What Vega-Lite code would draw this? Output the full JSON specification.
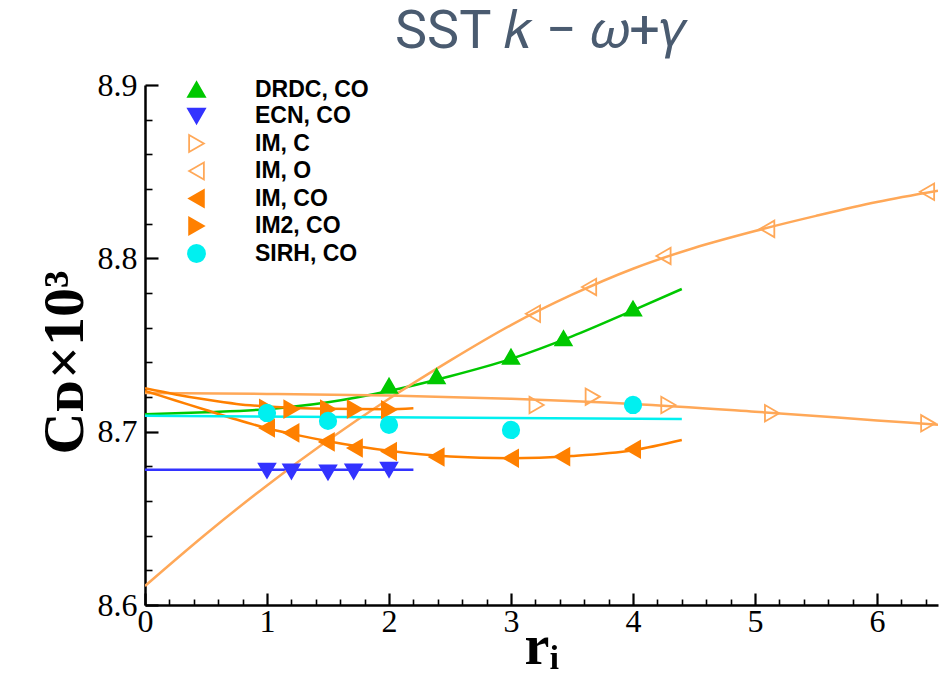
{
  "$schema": "https://vega.github.io/schema/vega-lite/v6.json",
  "width": 793,
  "height": 520,
  "autosize": "none",
  "padding": {"left": 145, "top": 85, "right": 11, "bottom": 68},
  "background": "white",
  "title": {
    "text": "SST 𝑘 − 𝜔+𝛾",
    "font": "Roboto",
    "fontSize": 54,
    "fontWeight": "normal",
    "color": "#4a5b70",
    "anchor": "middle",
    "frame": "group",
    "baseline": "alphabetic",
    "offset": -33
  },
  "datasets": {
    "curves": [
      {"series": "DRDC, CO", "r": 0.0, "cd": 8.7100},
      {"series": "DRDC, CO", "r": 0.5, "cd": 8.7112},
      {"series": "DRDC, CO", "r": 1.0, "cd": 8.7130},
      {"series": "DRDC, CO", "r": 1.5, "cd": 8.7170},
      {"series": "DRDC, CO", "r": 2.0, "cd": 8.7235},
      {"series": "DRDC, CO", "r": 2.5, "cd": 8.7320},
      {"series": "DRDC, CO", "r": 3.0, "cd": 8.7420},
      {"series": "DRDC, CO", "r": 3.5, "cd": 8.7550},
      {"series": "DRDC, CO", "r": 4.0, "cd": 8.7700},
      {"series": "DRDC, CO", "r": 4.4, "cd": 8.7823},
      {"series": "ECN, CO", "r": 0.0, "cd": 8.6780},
      {"series": "ECN, CO", "r": 2.2, "cd": 8.6780},
      {"series": "IM, C", "r": 0.0, "cd": 8.7223},
      {"series": "IM, C", "r": 1.0, "cd": 8.7218},
      {"series": "IM, C", "r": 2.0, "cd": 8.7208},
      {"series": "IM, C", "r": 3.0, "cd": 8.7190},
      {"series": "IM, C", "r": 4.0, "cd": 8.7160},
      {"series": "IM, C", "r": 5.0, "cd": 8.7115},
      {"series": "IM, C", "r": 6.0, "cd": 8.7065},
      {"series": "IM, C", "r": 6.5, "cd": 8.7040},
      {"series": "IM, O", "r": 0.0, "cd": 8.6110},
      {"series": "IM, O", "r": 0.5, "cd": 8.6410},
      {"series": "IM, O", "r": 1.0, "cd": 8.6690},
      {"series": "IM, O", "r": 1.5, "cd": 8.6950},
      {"series": "IM, O", "r": 2.0, "cd": 8.7190},
      {"series": "IM, O", "r": 2.5, "cd": 8.7410},
      {"series": "IM, O", "r": 3.0, "cd": 8.7615},
      {"series": "IM, O", "r": 3.5, "cd": 8.7790},
      {"series": "IM, O", "r": 4.0, "cd": 8.7940},
      {"series": "IM, O", "r": 4.5, "cd": 8.8060},
      {"series": "IM, O", "r": 5.0, "cd": 8.8158},
      {"series": "IM, O", "r": 5.5, "cd": 8.8245},
      {"series": "IM, O", "r": 6.0, "cd": 8.8325},
      {"series": "IM, O", "r": 6.5, "cd": 8.8390},
      {"series": "IM, CO", "r": 0.0, "cd": 8.7235},
      {"series": "IM, CO", "r": 0.25, "cd": 8.7180},
      {"series": "IM, CO", "r": 0.5, "cd": 8.7125},
      {"series": "IM, CO", "r": 0.75, "cd": 8.7070},
      {"series": "IM, CO", "r": 1.0, "cd": 8.7020},
      {"series": "IM, CO", "r": 1.25, "cd": 8.6980},
      {"series": "IM, CO", "r": 1.5, "cd": 8.6945},
      {"series": "IM, CO", "r": 2.0, "cd": 8.6890},
      {"series": "IM, CO", "r": 2.5, "cd": 8.6857},
      {"series": "IM, CO", "r": 3.0, "cd": 8.6847},
      {"series": "IM, CO", "r": 3.5, "cd": 8.6860},
      {"series": "IM, CO", "r": 4.0, "cd": 8.6893},
      {"series": "IM, CO", "r": 4.4, "cd": 8.6952},
      {"series": "IM2, CO", "r": 0.0, "cd": 8.7250},
      {"series": "IM2, CO", "r": 0.25, "cd": 8.7215},
      {"series": "IM2, CO", "r": 0.5, "cd": 8.7185},
      {"series": "IM2, CO", "r": 0.75, "cd": 8.7160},
      {"series": "IM2, CO", "r": 1.0, "cd": 8.7145},
      {"series": "IM2, CO", "r": 1.5, "cd": 8.7132},
      {"series": "IM2, CO", "r": 2.0, "cd": 8.7130},
      {"series": "IM2, CO", "r": 2.2, "cd": 8.7135},
      {"series": "SIRH, CO", "r": 0.0, "cd": 8.7092},
      {"series": "SIRH, CO", "r": 4.4, "cd": 8.7073}
    ],
    "points": [
      {"series": "DRDC, CO", "r": 2.0, "cd": 8.7265},
      {"series": "DRDC, CO", "r": 2.39, "cd": 8.7320},
      {"series": "DRDC, CO", "r": 3.0, "cd": 8.7433},
      {"series": "DRDC, CO", "r": 3.43, "cd": 8.7539},
      {"series": "DRDC, CO", "r": 4.0, "cd": 8.7710},
      {"series": "ECN, CO", "r": 1.0, "cd": 8.6775},
      {"series": "ECN, CO", "r": 1.2, "cd": 8.6770},
      {"series": "ECN, CO", "r": 1.5, "cd": 8.6765},
      {"series": "ECN, CO", "r": 1.71, "cd": 8.6770},
      {"series": "ECN, CO", "r": 2.0, "cd": 8.6780},
      {"series": "IM, C", "r": 3.21, "cd": 8.7154},
      {"series": "IM, C", "r": 3.67, "cd": 8.7202},
      {"series": "IM, C", "r": 4.29, "cd": 8.7154},
      {"series": "IM, C", "r": 5.14, "cd": 8.7106},
      {"series": "IM, C", "r": 6.42, "cd": 8.7048},
      {"series": "IM, O", "r": 3.18, "cd": 8.7680},
      {"series": "IM, O", "r": 3.64, "cd": 8.7835},
      {"series": "IM, O", "r": 4.25, "cd": 8.8014},
      {"series": "IM, O", "r": 5.1, "cd": 8.8170},
      {"series": "IM, O", "r": 6.41, "cd": 8.8384},
      {"series": "IM, CO", "r": 1.0, "cd": 8.7021},
      {"series": "IM, CO", "r": 1.2, "cd": 8.6993},
      {"series": "IM, CO", "r": 1.49, "cd": 8.6941},
      {"series": "IM, CO", "r": 1.72, "cd": 8.6906},
      {"series": "IM, CO", "r": 2.0, "cd": 8.6885},
      {"series": "IM, CO", "r": 2.39, "cd": 8.6854},
      {"series": "IM, CO", "r": 3.0, "cd": 8.6847},
      {"series": "IM, CO", "r": 3.42, "cd": 8.6856},
      {"series": "IM, CO", "r": 4.0, "cd": 8.6898},
      {"series": "IM2, CO", "r": 1.0, "cd": 8.7135},
      {"series": "IM2, CO", "r": 1.2, "cd": 8.7130},
      {"series": "IM2, CO", "r": 1.5, "cd": 8.7130},
      {"series": "IM2, CO", "r": 1.72, "cd": 8.7130},
      {"series": "IM2, CO", "r": 2.0, "cd": 8.7127},
      {"series": "SIRH, CO", "r": 1.0, "cd": 8.7108},
      {"series": "SIRH, CO", "r": 1.5, "cd": 8.7062},
      {"series": "SIRH, CO", "r": 2.0, "cd": 8.7039},
      {"series": "SIRH, CO", "r": 3.0, "cd": 8.7010},
      {"series": "SIRH, CO", "r": 4.0, "cd": 8.7154}
    ]
  },
  "encoding": {
    "x": {
      "field": "r",
      "type": "quantitative",
      "scale": {"domain": [0, 6.5], "nice": false, "zero": false},
      "axis": {
        "values": [0, 0.2, 0.4, 0.6, 0.8, 1, 1.2, 1.4, 1.6, 1.8, 2, 2.2, 2.4, 2.6, 2.8, 3, 3.2, 3.4, 3.6, 3.8, 4, 4.2, 4.4, 4.6, 4.8, 5, 5.2, 5.4, 5.6, 5.8, 6, 6.2, 6.4],
        "format": ".0f",
        "labelExpr": "abs(datum.value - round(datum.value)) < 0.001 ? datum.label : ''",
        "tickSize": {"condition": {"test": "abs(datum.value - round(datum.value)) < 0.001", "value": -12}, "value": -6},
        "tickWidth": {"condition": {"test": "abs(datum.value - round(datum.value)) < 0.001", "value": 2.2}, "value": 1.6},
        "tickColor": "black",
        "domainColor": "black",
        "domainWidth": 2.5,
        "grid": false,
        "labelFont": "Liberation Serif",
        "labelFontSize": 32,
        "labelColor": "black",
        "labelPadding": 13,
        "labelFlush": false,
        "labelOverlap": false,
        "labelBound": false,
        "title": "rᵢ",
        "titleFont": "Liberation Serif",
        "titleFontSize": 56,
        "titleFontWeight": "bold",
        "titleColor": "black",
        "titlePadding": -24
      }
    },
    "y": {
      "field": "cd",
      "type": "quantitative",
      "scale": {"domain": [8.6, 8.9], "nice": false, "zero": false},
      "axis": {
        "values": [8.6, 8.62, 8.64, 8.66, 8.68, 8.7, 8.72, 8.74, 8.76, 8.78, 8.8, 8.82, 8.84, 8.86, 8.88, 8.9],
        "format": ".1f",
        "labelExpr": "abs(datum.value * 10 - round(datum.value * 10)) < 0.001 ? datum.label : ''",
        "tickSize": {"condition": {"test": "abs(datum.value * 10 - round(datum.value * 10)) < 0.001", "value": -13}, "value": -7},
        "tickWidth": {"condition": {"test": "abs(datum.value * 10 - round(datum.value * 10)) < 0.001", "value": 2.2}, "value": 1.6},
        "tickColor": "black",
        "domainColor": "black",
        "domainWidth": 2.5,
        "grid": false,
        "labelFont": "Liberation Serif",
        "labelFontSize": 32,
        "labelColor": "black",
        "labelPadding": 21,
        "labelFlush": false,
        "labelOverlap": false,
        "labelBound": false,
        "title": "Cᴅ×10³",
        "titleFont": "Liberation Serif",
        "titleFontSize": 58,
        "titleFontWeight": "bold",
        "titleColor": "black",
        "titleBaseline": "alphabetic",
        "titleAngle": -90,
        "titleAlign": "center",
        "titleX": -63,
        "titleY": 277
      }
    }
  },
  "layer": [
    {
      "data": {"name": "curves"},
      "transform": [{"filter": {"field": "series", "equal": "DRDC, CO"}}],
      "mark": {"type": "line", "color": "#00c800", "strokeWidth": 2.5, "interpolate": "monotone", "clip": true}
    },
    {
      "data": {"name": "curves"},
      "transform": [{"filter": {"field": "series", "equal": "ECN, CO"}}],
      "mark": {"type": "line", "color": "#3333ff", "strokeWidth": 2.5, "interpolate": "monotone", "clip": true}
    },
    {
      "data": {"name": "curves"},
      "transform": [{"filter": {"field": "series", "oneOf": ["IM, C", "IM, O"]}}],
      "mark": {"type": "line", "color": "#ffa858", "strokeWidth": 2.5, "interpolate": "monotone", "clip": true},
      "encoding": {"detail": {"field": "series"}}
    },
    {
      "data": {"name": "curves"},
      "transform": [{"filter": {"field": "series", "oneOf": ["IM, CO", "IM2, CO"]}}],
      "mark": {"type": "line", "color": "#ff8000", "strokeWidth": 2.5, "interpolate": "monotone", "clip": true},
      "encoding": {"detail": {"field": "series"}}
    },
    {
      "data": {"name": "curves"},
      "transform": [{"filter": {"field": "series", "equal": "SIRH, CO"}}],
      "mark": {"type": "line", "color": "#00f0f0", "strokeWidth": 2.5, "interpolate": "monotone", "clip": true}
    },
    {
      "data": {"name": "points"},
      "mark": {"type": "point", "size": 270, "strokeWidth": 1.8, "opacity": 1},
      "encoding": {
        "shape": {
          "field": "series",
          "type": "nominal",
          "scale": {
            "domain": ["DRDC, CO", "ECN, CO", "IM, C", "IM, O", "IM, CO", "IM2, CO", "SIRH, CO"],
            "range": ["triangle-up", "triangle-down", "triangle-right", "triangle-left", "triangle-left", "triangle-right", "circle"]
          },
          "legend": {
            "orient": "none",
            "legendX": 40,
            "legendY": -7,
            "title": null,
            "padding": 0,
            "symbolSize": 290,
            "symbolStrokeWidth": 1.8,
            "labelFont": "Liberation Sans",
            "labelFontSize": 23,
            "labelFontWeight": "bold",
            "labelColor": "black",
            "labelOffset": 47,
            "rowPadding": 2.5
          }
        },
        "fill": {
          "field": "series",
          "type": "nominal",
          "scale": {
            "domain": ["DRDC, CO", "ECN, CO", "IM, C", "IM, O", "IM, CO", "IM2, CO", "SIRH, CO"],
            "range": ["#00c800", "#3333ff", "transparent", "transparent", "#ff8000", "#ff8000", "#00f0f0"]
          }
        },
        "stroke": {
          "field": "series",
          "type": "nominal",
          "scale": {
            "domain": ["DRDC, CO", "ECN, CO", "IM, C", "IM, O", "IM, CO", "IM2, CO", "SIRH, CO"],
            "range": ["#00c800", "#3333ff", "#ffa858", "#ffa858", "#ff8000", "#ff8000", "#00f0f0"]
          }
        }
      }
    }
  ],
  "config": {"view": {"stroke": null}}
}
